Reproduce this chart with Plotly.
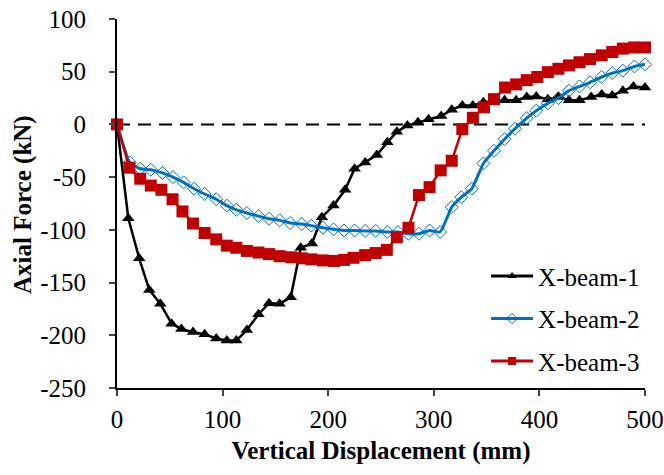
import plotly.graph_objects as go

# X-beam-1 (displacement mm, axial force kN)
x1 = [0, 10.7, 21, 30.6, 41, 51.7, 61, 72, 83, 94, 104, 113, 123, 134, 144, 154, 164.5, 174, 184.6, 194,
      205, 216, 225, 235, 246, 256, 265, 275, 285, 295, 307, 317, 327, 337, 347, 357, 367, 378, 388, 397,
      408, 418, 428, 438, 449, 459, 469, 479, 489, 500]
y1 = [0, -89, -127, -157, -170, -189, -194, -197, -199, -203, -205, -205, -195, -180, -169.5, -170, -164, -117, -113, -88,
      -77, -62, -42, -36, -29, -17, -7, -1, 2, 5, 8, 14, 18, 18, 21, 22, 23, 23, 26, 26.5,
      24, 26, 23, 23, 26, 28.5, 27.5, 32, 36, 35]

# X-beam-2
x2 = [0, 12, 22, 32, 43, 53, 63, 73, 83, 94, 104, 113, 123, 134, 144, 154, 164, 175, 184, 195,
      205, 215, 225, 235, 245, 256, 266, 276, 286, 296, 306, 317, 326, 336, 347, 357, 367, 377, 388, 397,
      408, 418, 428, 438, 448, 459, 469, 479, 490, 500]
y2 = [0, -36, -42, -43, -46, -50, -55, -61, -66, -71, -77, -81, -84, -87, -89.5, -91, -93.5, -94.5, -96, -98,
      -99.5, -100.6, -100.6, -101, -101, -102, -102, -103.7, -103.7, -100.6, -102, -78.5, -69, -61, -37, -25, -14, -4, 6, 13,
      20, 25, 32, 36, 40, 45, 48.7, 51, 55, 57]

# X-beam-3
x3 = [0, 11.7, 22, 32, 42, 52.6, 62, 72, 83, 94, 104, 113, 123, 134, 144, 154, 165, 175, 184, 195,
      205.5, 215, 224, 235, 245, 255.5, 265, 276, 286, 296, 306.5, 317, 327, 337, 347.5, 357, 367.5, 378, 388, 398,
      408, 418, 428, 438, 448, 459, 469, 479, 489.6, 500]
y3 = [0, -41, -51.5, -58, -62, -71, -82.5, -94, -103, -109, -115, -117, -120, -121.5, -123, -125, -126, -127, -128, -129,
      -129.5, -128.5, -126.5, -124, -122, -119, -107, -98, -67, -59.5, -43.6, -34.5, -4.5, 6.3, 16.3, 24, 35, 38, 42, 45,
      49.6, 52.8, 56, 59, 62, 65.5, 68.7, 71.9, 73, 73]

names = ["X-beam-1", "X-beam-2", "X-beam-3"]

x_ticks = [0, 100, 200, 300, 400, 500]
y_ticks = [100, 50, 0, -50, -100, -150, -200, -250]
y_ticktext = ["100", "50", "0", "-50", "-100", "-150", "-200", "-250"]

FONT = "Liberation Serif, Times New Roman, serif"
colors = ["black", "#0070C0", "#C00000"]
symbols = ["triangle-up", "diamond-open", "square"]
sizes = [11, 10, 12]
widths = [2.5, 3, 2.5]

fig = go.Figure()
data = [(x1, y1), (x2, y2), (x3, y3)]
for i, (xs, ys) in enumerate(data):
    line = dict(color=colors[i], width=widths[i])
    mk = dict(symbol=symbols[i], size=sizes[i], color=colors[i])
    if i == 1:
        line.update(shape="spline", smoothing=0.4)
        mk["line"] = dict(width=1, color=colors[i])
    fig.add_trace(go.Scatter(x=xs, y=ys, name=names[i], mode="lines+markers", showlegend=False,
                             line=line, marker=mk, cliponaxis=False))

# legend entries (small markers, as in the reference legend)
for i in range(3):
    mk = dict(symbol=symbols[i], size=8, color=colors[i])
    if i == 1:
        mk["line"] = dict(width=1, color=colors[i])
    fig.add_trace(go.Scatter(x=[None], y=[None], name=names[i], mode="lines+markers",
                             legendgroup=names[i],
                             line=dict(color=colors[i], width=3), marker=mk))

fig.add_shape(type="line", x0=0, x1=500, y0=0, y1=0, xref="x", yref="y",
              line=dict(color="black", width=2, dash="13px,8px"), layer="below")

# y-axis title as a rotated annotation so it can be placed exactly
fig.add_annotation(text="<b>Axial Force (kN)</b>", textangle=-90, xref="paper", yref="paper",
                   x=-0.178, y=0.496, xanchor="center", yanchor="middle", showarrow=False,
                   font=dict(family=FONT, size=25, color="black"))

fig.update_layout(
    width=664, height=475,
    margin=dict(l=117, r=19, t=19, b=87),
    plot_bgcolor="white", paper_bgcolor="white",
    font=dict(family=FONT, size=25, color="black"),
    showlegend=True,
    legend=dict(x=0.699, y=0.365, xanchor="left", yanchor="top", bgcolor="rgba(0,0,0,0)",
                font=dict(family=FONT, size=25, color="black"), tracegroupgap=7,
                itemwidth=42),
    xaxis=dict(range=[0, 500], tickvals=x_ticks, ticks="outside", ticklen=6, tickwidth=2,
               showline=True, linewidth=2, linecolor="black", showgrid=False, zeroline=False,
               automargin=False, ticklabeloverflow="allow",
               title=dict(text="<b>Vertical Displacement (mm)</b>", font=dict(size=25), standoff=9),
               tickfont=dict(size=25), ticklabelstandoff=2),
    yaxis=dict(range=[-250, 100], tickvals=y_ticks, ticktext=y_ticktext, ticks="outside", ticklen=6,
               tickwidth=2, showline=True, linewidth=2, linecolor="black", showgrid=False, zeroline=False,
               automargin=False, ticklabeloverflow="allow",
               tickfont=dict(size=25), ticklabelstandoff=18),
)

fig.write_html("out.html", config={"displayModeBar": False},
               post_script="document.body.style.margin='0';document.body.style.overflow='hidden';")
